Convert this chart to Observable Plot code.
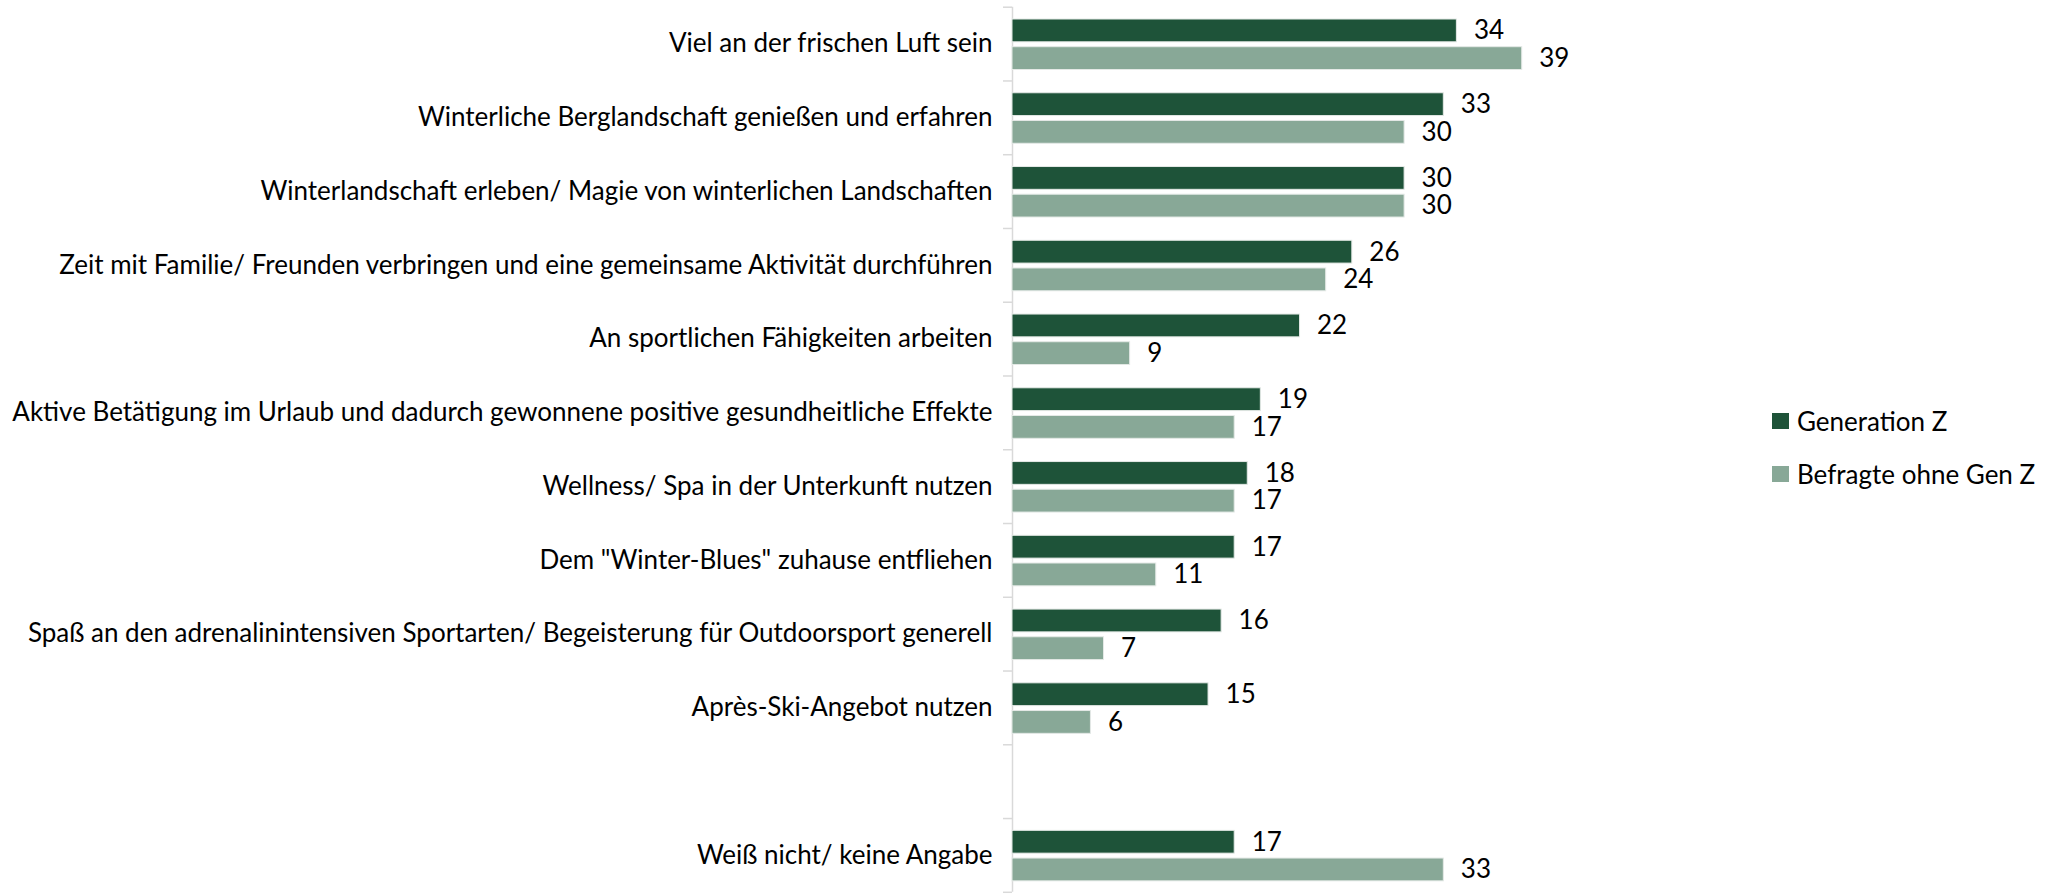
<!DOCTYPE html>
<html>
<head>
<meta charset="utf-8">
<script src="https://cdn.jsdelivr.net/npm/d3@7"></script>
<script src="https://cdn.jsdelivr.net/npm/@observablehq/plot@0.6"></script>
<style>
  html, body { margin: 0; padding: 0; background: #fff; }
  #wrap { position: relative; width: 2052px; height: 895px; font-family: Lato, "Open Sans", sans-serif; }
  .lg { position: absolute; left: 1772px; display: flex; align-items: center; height: 30px; font-size: 26px; color: #000; white-space: nowrap; }
  .lg .sw { width: 17px; height: 16px; margin-right: 8px; }
</style>
</head>
<body>
<div id="wrap"></div>
<script>
const categories = [
  "Viel an der frischen Luft sein",
  "Winterliche Berglandschaft genießen und erfahren",
  "Winterlandschaft erleben/ Magie von winterlichen Landschaften",
  "Zeit mit Familie/ Freunden verbringen und eine gemeinsame Aktivität durchführen",
  "An sportlichen Fähigkeiten arbeiten",
  "Aktive Betätigung im Urlaub und dadurch gewonnene positive gesundheitliche Effekte",
  "Wellness/ Spa in der Unterkunft nutzen",
  "Dem \"Winter-Blues\" zuhause entfliehen",
  "Spaß an den adrenalinintensiven Sportarten/ Begeisterung für Outdoorsport generell",
  "Après-Ski-Angebot nutzen",
  " ",
  "Weiß nicht/ keine Angabe"
];
const seriesNames = ["Generation Z", "Befragte ohne Gen Z"];
const genZ   = [34, 33, 30, 26, 22, 19, 18, 17, 16, 15, null, 17];
const others = [39, 30, 30, 24,  9, 17, 17, 11,  7,  6, null, 33];
const colors = ["#1E5339", "#88A897"];

const W = 2052, H = 895;
const marginTop = 6.7, marginBottom = 3.2, marginLeft = 1012, marginRight = 517.2;
const step = (H - marginTop - marginBottom) / categories.length;
const barH = 22.8;
const offsets = [12.3, 40.0];
const fontSize = 26;

const seriesValues = [genZ, others];
const rowsBySeries = seriesValues.map((vals, k) =>
  categories.map((c, i) => ({category: c, series: seriesNames[k], value: vals[i]}))
            .filter(d => d.value != null)
);

const marks = [];
marks.push(Plot.ruleX([0], {stroke: "#d9d9d9", strokeWidth: 1.5}));
rowsBySeries.forEach((rows, k) => {
  marks.push(Plot.barX(rows, {
    x: "value", y: "category", fill: colors[k],
    stroke: "#e4e9e6", strokeWidth: 1,
    insetTop: offsets[k], insetBottom: step - offsets[k] - barH
  }));
  marks.push(Plot.text(rows, {
    x: "value", y: "category", text: d => String(d.value),
    dx: 17, dy: offsets[k] + barH / 2 - step / 2,
    textAnchor: "start", fontSize, fill: "#000"
  }));
});
marks.push(Plot.axisY({tickSize: 0, tickPadding: 20, fontSize, fill: "#000", label: null}));
marks.push(Plot.axisY({tickSize: 9, fill: "none", stroke: "#d9d9d9", strokeWidth: 1.5, dy: -step / 2, label: null}));
marks.push(Plot.axisY({ticks: [categories[categories.length - 1]], tickSize: 9, fill: "none", stroke: "#d9d9d9", strokeWidth: 1.5, dy: step / 2, label: null}));

const chart = Plot.plot({
  width: W, height: H,
  marginTop, marginBottom, marginLeft, marginRight,
  style: {fontFamily: "Lato, 'Open Sans', sans-serif", background: "#fff", color: "#000"},
  x: {domain: [0, 40], axis: null},
  y: {domain: categories, padding: 0, round: false, label: null},
  marks
});

const wrap = document.getElementById("wrap");
wrap.appendChild(chart);

const legendCenters = [421, 474];
seriesNames.forEach((name, k) => {
  const item = document.createElement("div");
  item.className = "lg";
  item.style.top = (legendCenters[k] - 15) + "px";
  const sw = document.createElement("div");
  sw.className = "sw";
  sw.style.background = colors[k];
  const t = document.createElement("span");
  t.textContent = name;
  item.appendChild(sw);
  item.appendChild(t);
  wrap.appendChild(item);
});
</script>
</body>
</html>
